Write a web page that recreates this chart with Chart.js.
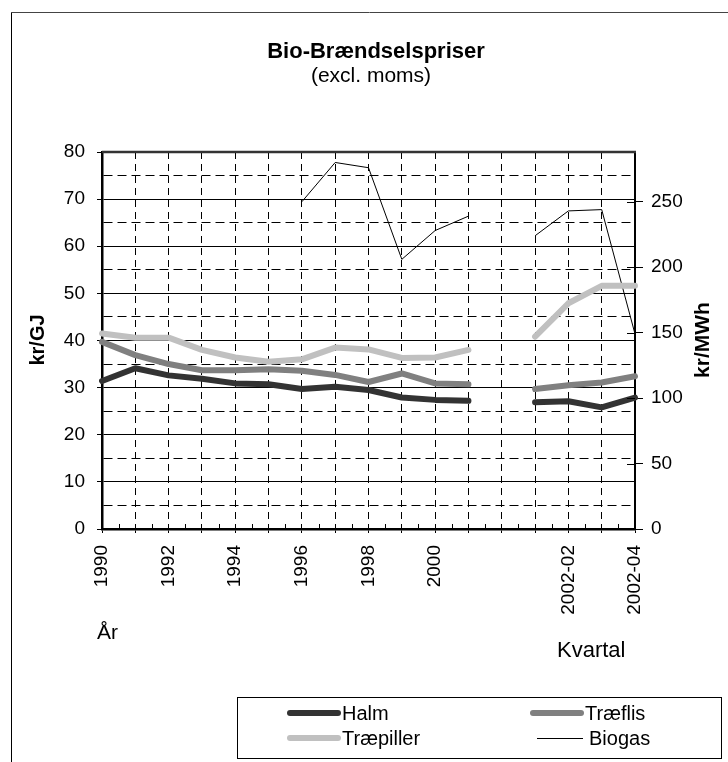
<!DOCTYPE html>
<html>
<head>
<meta charset="utf-8">
<script src="https://cdn.jsdelivr.net/npm/chart.js@4.4.0/dist/chart.umd.min.js"></script>
<style>
  html, body { margin: 0; padding: 0; background: #fff; }
</style>
</head>
<body>
<canvas id="chart" width="728" height="762"></canvas>
<script>
// categories: 12 years, one empty slot, then 4 quarters of 2002
const labels = ['1990', '1991', '1992', '1993', '1994', '1995', '1996', '1997', '1998', '1999', '2000', '2001',
  '', '2002-01', '2002-02', '2002-03', '2002-04'];

// kr/GJ (left axis)
const halm = [31.4, 34.1, 32.6, 31.9, 30.9, 30.7, 29.7, 30.2, 29.5, 27.9, 27.4, 27.2, null, 26.9, 27.1, 25.8, 27.9];
const traeflis = [39.7, 36.9, 35.0, 33.7, 33.7, 33.9, 33.6, 32.7, 31.2, 33.0, 30.9, 30.7, null, 29.7, 30.5, 31.1, 32.4];
const traepiller = [41.5, 40.6, 40.6, 38.0, 36.4, 35.5, 36.0, 38.5, 38.1, 36.3, 36.4, 38.0, null, 40.8, 47.9, 51.6, 51.6];
// kr/MWh (right axis)
const biogas = [null, null, null, null, null, null, 250, 280, 276, 206, 228, 239, null, 224, 243, 244, 149];

const rightTicks = [0, 50, 100, 150, 200, 250];

const FONT = "'Liberation Sans', Arial, sans-serif";
Chart.defaults.font.family = FONT;
Chart.defaults.color = '#000';

function text(ctx, str, x, y, font, align, rot) {
  ctx.save();
  ctx.font = font;
  ctx.fillStyle = '#000';
  ctx.textBaseline = 'middle';
  ctx.textAlign = align || 'center';
  ctx.translate(x, y);
  if (rot) ctx.rotate(rot);
  ctx.fillText(str, 0, 0);
  ctx.restore();
}

function line(ctx, x1, y1, x2, y2, color, width, cap) {
  ctx.save();
  ctx.strokeStyle = color;
  ctx.lineWidth = width;
  ctx.lineCap = cap || 'butt';
  ctx.beginPath();
  ctx.moveTo(x1, y1);
  ctx.lineTo(x2, y2);
  ctx.stroke();
  ctx.restore();
}

const extras = {
  id: 'extras',
  afterDraw(chart) {
    const ctx = chart.ctx;
    const area = chart.chartArea;
    const xs = chart.scales.x;
    const y2 = chart.scales.y2;

    // outer chart frame (only left and top visible)
    line(ctx, 11.5, 12, 11.5, 762, '#000', 1);
    line(ctx, 11, 12.5, 728, 12.5, '#444', 1);

    // plot area top border
    line(ctx, area.left, area.top, area.right + 1, area.top, '#333', 2.5);

    // minor ticks between categories
    for (let i = 0; i < labels.length - 1; i++) {
      const x = Math.round((xs.getPixelForValue(i) + xs.getPixelForValue(i + 1)) / 2) + 0.5;
      line(ctx, x, area.bottom, x, area.bottom - 5, '#000', 1);
    }
    // right axis ticks, inner half
    rightTicks.forEach(v => {
      const y = Math.round(y2.getPixelForValue(v)) + 0.5;
      line(ctx, area.right - 8, y, area.right, y, '#000', 1);
    });

    text(ctx, 'Bio-Brændselspriser', 376, 52, 'bold 22px ' + FONT);
    text(ctx, '(excl. moms)', 371, 76, '21px ' + FONT);
    text(ctx, 'kr/GJ', 38, 340, 'bold 20px ' + FONT, 'center', -Math.PI / 2);
    text(ctx, 'kr/MWh', 703, 340, 'bold 21px ' + FONT, 'center', -Math.PI / 2);
    text(ctx, 'År', 97, 633, '21px ' + FONT, 'left');
    text(ctx, 'Kvartal', 557, 651, '22px ' + FONT, 'left');

    // legend
    ctx.save();
    ctx.strokeStyle = '#000';
    ctx.lineWidth = 1;
    ctx.strokeRect(237.5, 697.5, 484, 61);
    ctx.restore();
    line(ctx, 290, 713, 338, 713, '#333333', 6, 'round');
    text(ctx, 'Halm', 342, 714, '20px ' + FONT, 'left');
    line(ctx, 533, 713, 581, 713, '#808080', 6, 'round');
    text(ctx, 'Træflis', 585, 714, '20px ' + FONT, 'left');
    line(ctx, 290, 738, 338, 738, '#c0c0c0', 6, 'round');
    text(ctx, 'Træpiller', 342, 739, '20px ' + FONT, 'left');
    line(ctx, 537, 738.5, 583, 738.5, '#000', 1);
    text(ctx, 'Biogas', 589, 739, '20px ' + FONT, 'left');
  }
};

new Chart(document.getElementById('chart'), {
  type: 'line',
  data: {
    labels: labels,
    datasets: [
      { label: 'Halm', data: halm, borderColor: '#333333', borderWidth: 6, yAxisID: 'y' },
      { label: 'Træflis', data: traeflis, borderColor: '#808080', borderWidth: 6, yAxisID: 'y' },
      { label: 'Træpiller', data: traepiller, borderColor: '#c0c0c0', borderWidth: 6, yAxisID: 'y' },
      { label: 'Biogas', data: biogas, borderColor: '#000000', borderWidth: 1, yAxisID: 'y2',
        borderCapStyle: 'butt', borderJoinStyle: 'miter' }
    ]
  },
  options: {
    responsive: false,
    animation: false,
    layout: { padding: { top: 152, left: 0, right: 0, bottom: 0 } },
    plugins: { legend: { display: false }, tooltip: { enabled: false } },
    elements: {
      point: { radius: 0 },
      line: { tension: 0, borderCapStyle: 'round', borderJoinStyle: 'round', fill: false }
    },
    scales: {
      x: {
        offset: false,
        grid: { color: '#000', lineWidth: 1, drawTicks: true, tickLength: 4, tickColor: '#000' },
        border: { color: '#000', width: 2.5, dash: [7, 5] },
        ticks: {
          autoSkip: false, minRotation: 90, maxRotation: 90, padding: 12,
          font: { size: 19 },
          callback: function (v, i) { return i % 2 === 0 ? this.getLabelForValue(v) : ''; }
        },
        afterFit: s => { s.height = 233; }
      },
      y: {
        position: 'left', min: 0, max: 80,
        ticks: { stepSize: 5, autoSkip: false, padding: 12, font: { size: 19 },
          callback: v => (v % 10 === 0 ? v : '') },
        grid: {
          color: '#000', lineWidth: 1, drawTicks: true, tickLength: 5,
          tickColor: c => (c.tick && c.tick.value % 10 === 0 ? '#000' : 'rgba(0,0,0,0)')
        },
        border: { color: '#000', width: 2.5, dash: c => (c.tick && c.tick.value % 10 !== 0 ? [9, 5] : []) },
        afterFit: s => { s.width = 102; }
      },
      y2: {
        position: 'right', min: 0, max: 288,
        afterBuildTicks: s => { s.ticks = rightTicks.map(v => ({ value: v })); },
        ticks: { padding: 8, font: { size: 19 } },
        grid: { drawOnChartArea: false, drawTicks: true, tickLength: 8, color: '#000' },
        border: { color: '#000', width: 2 },
        afterFit: s => { s.width = 93; }
      }
    }
  },
  plugins: [extras]
});
</script>
</body>
</html>
